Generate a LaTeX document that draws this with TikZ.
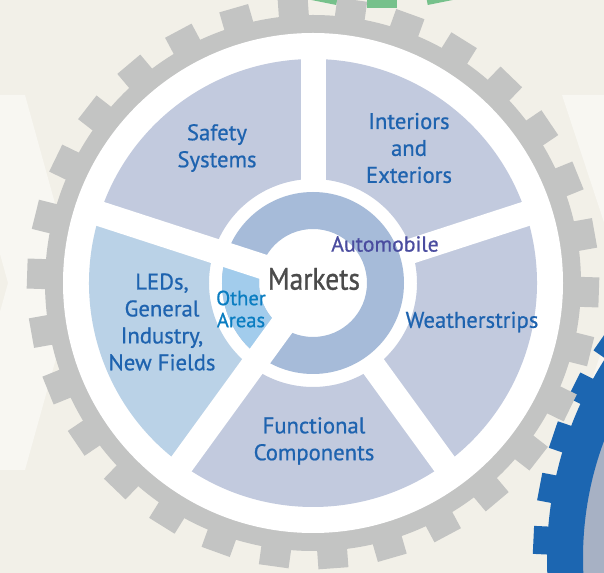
\documentclass[tikz,border=0pt]{standalone}
\usepackage{fontspec}
\setmainfont{PT Sans}
\newfontfamily\labelfont{PT Sans}[FakeBold=0.7]
\newfontfamily\centerfont{PT Sans}[FakeBold=1.0]
\usepackage{xcolor}

\definecolor{bgCream}{HTML}{F2F0E8}
\definecolor{paperLight}{HTML}{F8F7F2}
\definecolor{gearGray}{HTML}{C3C4C3}
\definecolor{gearGreen}{HTML}{76C18B}
\definecolor{gearBlue}{HTML}{1C66B1}
\definecolor{photoGray}{HTML}{A7B1C4}
\definecolor{secBlue}{HTML}{C2CADE}
\definecolor{ledBlue}{HTML}{BAD2E7}
\definecolor{ringBlue}{HTML}{A6BBD9}
\definecolor{otherBlue}{HTML}{A2CCEC}
\definecolor{lblBlue}{HTML}{1E63AF}
\definecolor{autoText}{HTML}{4A4C9F}
\definecolor{otherText}{HTML}{0A7DC1}
\definecolor{marketGray}{HTML}{4B4B4B}

\begin{document}
\begin{tikzpicture}[x=0.75pt,y=0.75pt,yscale=-1,xscale=1,
  market/.style={text=lblBlue,align=center,font=\labelfont\fontsize{17}{20.2}\selectfont},
  spoke/.style={white,line width=18.75pt}]
\useasboundingbox (0,0) rectangle (604,573);

%Background
\fill[bgCream] (0,0) rectangle (604,573);
%Shape: chevrons
\fill[paperLight] (-44,95) -- (25,95) -- (77,283) -- (25,470) -- (-44,470) -- (8,283) -- cycle;
\fill[paperLight] (562,95) -- (700,95) -- (700,470) -- (562,470) -- (624,283) -- cycle;

%Green gear, top
\begin{scope}[shift={(382,-302)},yscale=-1]
\fill[gearGreen] (0,0) circle (296);
\foreach \k in {-3,...,3}
  \fill[gearGreen,rotate=-90+11.25*\k] (290,-15) rectangle (310,15);
\end{scope}

%Blue gear with photo, bottom right
\begin{scope}[shift={(918,558)},yscale=-1]
\fill[photoGray] (0,0) circle (336);
\fill[gearBlue,even odd rule] (0,0) circle (371) (0,0) circle (335);
\foreach \k in {0,...,44}
  \fill[gearBlue,rotate=177.3+8*\k] (366,-14) rectangle (385,14);
\end{scope}

%Gray gear
\begin{scope}[shift={(313,283)},yscale=-1]
\fill[gearGray] (0,0) circle (268);
\foreach \k in {0,...,29}
  \fill[gearGray,rotate=-1.9+12*\k] (262,-15) rectangle (286,15);
\fill[white] (0,0) circle (250);
% sectors
\foreach \c/\col in {126/secBlue,54/secBlue,-18/secBlue,-90/secBlue,198/ledBlue}
  \fill[\col] (\c-36:104) arc[start angle=\c-36,end angle=\c+36,radius=104]
    -- (\c+36:224) arc[start angle=\c+36,end angle=\c-36,radius=224] -- cycle;
% inner ring
\fill[ringBlue,even odd rule] (0,0) circle (91) (0,0) circle (54);
\fill[otherBlue] (162:54) arc[start angle=162,end angle=234,radius=54]
  -- (234:91) arc[start angle=234,end angle=162,radius=91] -- cycle;
% spokes
\foreach \a in {90,18,-54}
  \draw[spoke] (\a:98) -- (\a:230);
\foreach \a in {162,234}
  \draw[spoke] (0,0) -- (\a:230);
\end{scope}

% Text Node
\node[market] (safety) at (217,148) {Safety\\Systems};
% Text Node
\node[market] (interiors) at (409,148) {Interiors\\and\\Exteriors};
% Text Node
\node[market] (weather) at (472,322) {Weatherstrips};
% Text Node
\node[market] (functional) at (314,441) {Functional\\Components};
% Text Node
\node[market] (leds) at (162,322) {LEDs,\\General\\Industry,\\New Fields};
% Text Node
\node[text=autoText,font=\labelfont\fontsize{16.3}{19}\selectfont] (automobile) at (385,244) {Automobile};
% Text Node
\node[text=otherText,align=center,font=\labelfont\fontsize{15.4}{16.5}\selectfont] (other) at (241,309) {Other\\Areas};
% Text Node
\node[text=marketGray,font=\centerfont\fontsize{23.3}{28}\selectfont] (markets) at (314,279) {\scalebox{0.88}[1]{Markets}};

\end{tikzpicture}
\end{document}
